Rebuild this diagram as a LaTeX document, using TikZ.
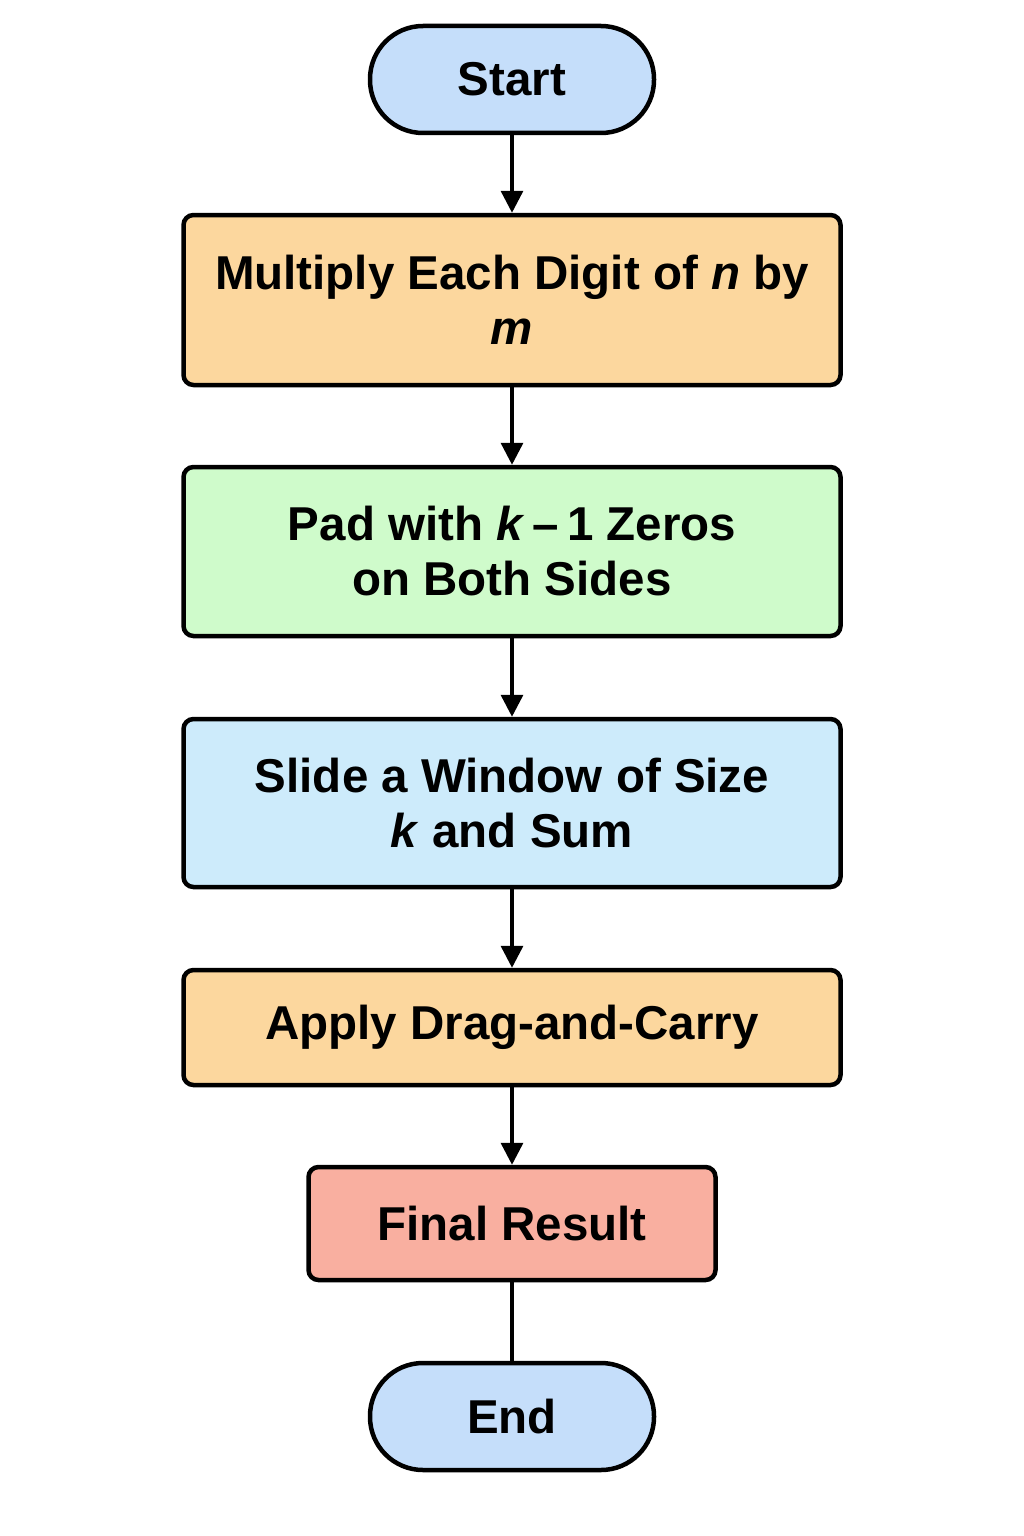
\documentclass[tikz,border=0pt]{standalone}
\usepackage{fontspec}
\setmainfont{Liberation Sans}
\usetikzlibrary{arrows.meta}
\definecolor{termblue}{HTML}{C5DEFA}
\definecolor{orangebox}{HTML}{FCD79E}
\definecolor{greenbox}{HTML}{CFFBCB}
\definecolor{bluebox}{HTML}{CDEBFB}
\definecolor{redbox}{HTML}{F9AFA0}
\begin{document}
\begin{tikzpicture}[x=1pt,y=-1pt,
  lbl/.style={font=\fontsize{47.5}{55}\selectfont\bfseries, align=center, text=black},
  terminal/.style={lbl, draw=black, line width=4.5pt, fill=termblue, minimum width=284pt, minimum height=107pt, rounded corners=53pt, inner sep=0pt},
  procbox/.style={lbl, draw=black, line width=4.5pt, rounded corners=10pt, minimum width=657pt, inner sep=0pt},
  conn/.style={line width=3.4pt, draw=black},
  arr/.style={conn, -{Triangle[length=22pt,width=22pt]}}
]
\useasboundingbox (0,0) rectangle (1024,1536);
\fill[white] (0,0) rectangle (1024,1536);
\node[terminal] (start) at (512,79.5) {Start};
\node[procbox, fill=orangebox, minimum height=170pt] (b1) at (512,300) {Multiply Each Digit of \textit{n} by\\\textit{m}};
\node[procbox, fill=greenbox, minimum height=169pt] (b2) at (512,551.5) {Pad with \textit{k}\,–\,1 Zeros\\on Both Sides};
\node[procbox, fill=bluebox, minimum height=168pt] (b3) at (512,803) {Slide a Window of Size\\\textit{k} and Sum};
\node[procbox, fill=orangebox, minimum height=115pt] (b4) at (512,1027.5) {Apply Drag-and-Carry};
\node[procbox, fill=redbox, minimum width=407pt, minimum height=113pt] (res) at (512,1223.5) {Final Result};
\node[terminal] (end) at (512,1416.5) {End};
\draw[arr] (start) -- (b1);
\draw[arr] (b1) -- (b2);
\draw[arr] (b2) -- (b3);
\draw[arr] (b3) -- (b4);
\draw[arr] (b4) -- (res);
\draw[conn] (res) -- (end);
\end{tikzpicture}
\end{document}
